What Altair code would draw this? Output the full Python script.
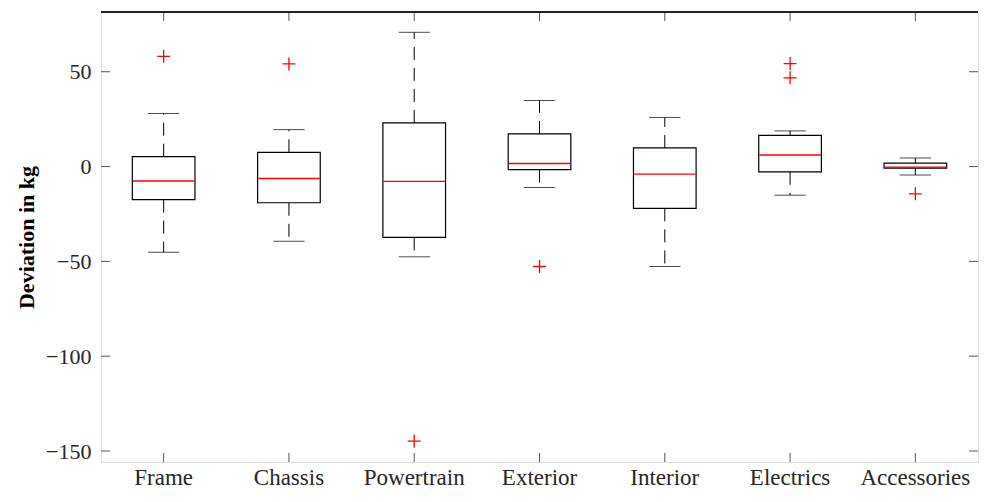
import altair as alt
import pandas as pd

categories = ["Frame", "Chassis", "Powertrain", "Exterior", "Interior", "Electrics", "Accessories"]
lower_whisker = [-45.2, -39.4, -47.6, -11.0, -52.7, -15.1, -4.5]
q1 = [-17.4, -19.1, -37.4, -1.6, -22.1, -2.8, -0.8]
median = [-7.6, -6.3, -7.8, 1.6, -4.0, 6.1, -0.3]
q3 = [5.2, 7.5, 23.0, 17.2, 9.8, 16.4, 1.8]
upper_whisker = [28.0, 19.5, 70.8, 34.8, 25.9, 18.8, 4.5]

outlier_cat = ["Frame", "Chassis", "Powertrain", "Exterior", "Electrics", "Electrics", "Accessories"]
outlier_val = [58.1, 54.1, -144.8, -52.7, 54.3, 46.8, -14.4]

y_ticks = [50, 0, -50, -100, -150]

W, H = 877, 450
band = W / len(categories)
FONT = "Liberation Serif"

box_df = pd.DataFrame({
    "cat": categories, "lo": lower_whisker, "q1": q1, "med": median,
    "q3": q3, "hi": upper_whisker,
})
out_df = pd.DataFrame({"cat": outlier_cat, "val": outlier_val})
tick_df = pd.DataFrame({"v": y_ticks})
cat_df = pd.DataFrame({"cat": categories})

xenc = alt.X("cat:N", sort=categories,
             scale=alt.Scale(domain=categories, paddingInner=0, paddingOuter=0),
             axis=alt.Axis(title=None, labelAngle=0, ticks=False, domain=False,
                           labelFont=FONT, labelFontSize=23, labelColor="#262626",
                           labelPadding=4))
yscale = alt.Scale(domain=[-155.8, 81.5], nice=False, zero=False)
yaxis = alt.Axis(title="Deviation in kg", values=y_ticks, grid=False, ticks=False,
                 domain=False, labelFont=FONT, labelFontSize=22, labelColor="#262626",
                 labelPadding=10, titleFont=FONT, titleFontSize=22, titleFontWeight="bold",
                 titleColor="#000000", titleX=-75, titleY=H / 2, titleBaseline="middle",
                 titleAngle=-90, titleAlign="center")

base = alt.Chart(box_df)
xc = alt.X("cat:N", sort=categories)

whisk_up = base.mark_rule(color="black", strokeWidth=1, strokeDash=[13, 8]).encode(
    x=xenc, y=alt.Y("q3:Q", scale=yscale, axis=yaxis), y2="hi:Q")
whisk_lo = base.mark_rule(color="black", strokeWidth=1, strokeDash=[13, 8]).encode(
    x=xc, y="q1:Q", y2="lo:Q")
cap_hi = base.mark_tick(color="black", size=band / 4, thickness=1).encode(x=xc, y="hi:Q")
cap_lo = base.mark_tick(color="black", size=band / 4, thickness=1).encode(x=xc, y="lo:Q")
box = base.mark_bar(size=band / 2, fill="white", stroke="black", strokeWidth=1.2).encode(
    x=xc, y="q1:Q", y2="q3:Q")
med = base.mark_tick(color="#ff0000", size=band / 2 - 1, thickness=1.4, opacity=1).encode(
    x=xc, y="med:Q")
outl = alt.Chart(out_df).mark_point(
    shape="M-1,0L1,0M0,-1L0,1", size=169, filled=False, color="#ff0000",
    strokeWidth=1.3, opacity=1).encode(x=xc, y="val:Q")

# inward ticks on all four sides
yt_left = alt.Chart(tick_df).mark_rule(color="#555555", strokeWidth=1).encode(
    y="v:Q", x=alt.value(0), x2=alt.value(9))
yt_right = alt.Chart(tick_df).mark_rule(color="#555555", strokeWidth=1).encode(
    y="v:Q", x=alt.value(W - 9), x2=alt.value(W))
xt_bot = alt.Chart(cat_df).mark_rule(color="#555555", strokeWidth=1).encode(
    x=xc, y=alt.value(H), y2=alt.value(H - 9))
xt_top = alt.Chart(cat_df).mark_rule(color="#555555", strokeWidth=1).encode(
    x=xc, y=alt.value(0), y2=alt.value(9))
top_line = alt.Chart(cat_df).mark_rule(color="#222222", strokeWidth=1.3).encode(
    x=alt.value(0), x2=alt.value(W), y=alt.value(0))

chart = alt.layer(
    whisk_up, whisk_lo, cap_hi, cap_lo, box, med, outl,
    yt_left, yt_right, xt_bot, xt_top, top_line,
).properties(
    width=W, height=H,
    padding={"left": 93, "top": 4, "right": 1, "bottom": 26},
    autosize=alt.AutoSizeParams(type="none"),
).configure_view(
    stroke="#8a8a8a", strokeWidth=2,
).configure(background="white")

chart.save("out.html", embed_options={"renderer": "svg", "actions": False})
